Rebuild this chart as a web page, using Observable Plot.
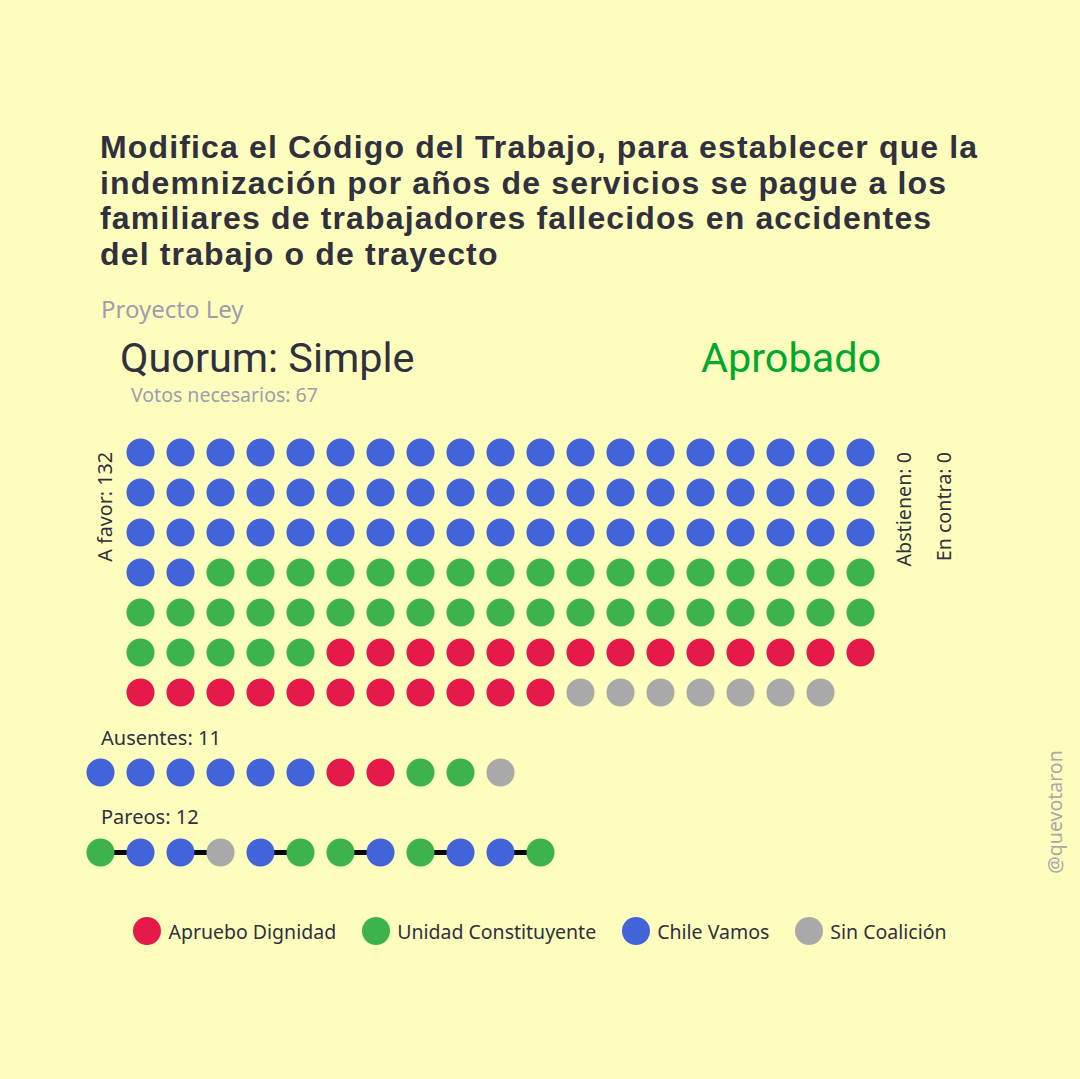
<!DOCTYPE html>
<html>
<head>
<meta charset="utf-8">
<script src="https://cdn.jsdelivr.net/npm/d3@7"></script>
<script src="https://cdn.jsdelivr.net/npm/@observablehq/plot@0.6"></script>
<style>
  html, body { margin: 0; padding: 0; }
  body { width: 1080px; height: 1079px; background: #fdfdbd; position: relative; overflow: hidden;
         font-family: "Noto Sans", Roboto, sans-serif; color: #30303f; }
  .abs { position: absolute; white-space: nowrap; line-height: 1; }
  .rot { transform: translate(-50%, -50%) rotate(-90deg); }
  .vert { writing-mode: vertical-rl; transform: rotate(180deg); }
  .tline { position: absolute; left: 100px; font-size: 32px; font-weight: 700; line-height: 1; white-space: nowrap;
           letter-spacing: 1.15px; font-family: "Liberation Sans", Arial, sans-serif; }
  #sub { left: 101px; top: 296.5px; font-size: 24px; color: #9e9db0; }
  #quorum { left: 120px; top: 337.5px; font-size: 41.4px; font-family: Roboto, sans-serif; }
  #estado { left: 701px; top: 337.5px; font-size: 41.4px; color: #00a82c; font-family: Roboto, sans-serif; }
  #votos { left: 131px; top: 385px; font-size: 19.5px; color: #9e9db0; }
  .side { font-size: 19.7px; top: 452px; }
  .grp { font-size: 20px; }
  #chart { position: absolute; left: 0; top: 420px; }
  #legend { position: absolute; left: 0; width: 1080px; top: 917px; display: flex; justify-content: center; gap: 26px; font-size: 19.5px; }
  #legend .item { display: flex; align-items: center; gap: 7px; }
  #legend .sw { width: 28px; height: 28px; border-radius: 50%; display: inline-block; }
  #wm { font-size: 19.5px; color: #a8a8ad; }
</style>
</head>
<body>
<div id="title"></div>
<div id="sub" class="abs"></div>
<div id="quorum" class="abs"></div>
<div id="estado" class="abs"></div>
<div id="votos" class="abs"></div>
<div id="favorLbl" class="abs vert side" style="left:95.15px;"></div>
<div id="abstLbl" class="abs vert side" style="left:894.15px;"></div>
<div id="contraLbl" class="abs vert side" style="left:934.15px;"></div>
<div id="ausLbl" class="abs grp" style="left:101px; top:728.2px;"></div>
<div id="parLbl" class="abs grp" style="left:101px; top:807.2px;"></div>
<div id="chart"></div>
<div id="legend"></div>
<div id="wm" class="abs rot" style="left:1055px; top:812px;"></div>
<script>
// ---- Data ----
const titleLines = [
  "Modifica el Código del Trabajo, para establecer que la",
  "indemnización por años de servicios se pague a los",
  "familiares de trabajadores fallecidos en accidentes",
  "del trabajo o de trayecto"
];
const subtitle = "Proyecto Ley";
const quorum = "Simple";
const resultado = "Aprobado";
const votosNecesarios = 67;
const abstienen = 0;
const enContra = 0;

const parties = ["Apruebo Dignidad", "Unidad Constituyente", "Chile Vamos", "Sin Coalición"];
const partyColors = ["#e6194b", "#3cb44b", "#4363d8", "#a9a9a9"];

// A favor, in drawing order
const favorParties = ["Chile Vamos", "Unidad Constituyente", "Apruebo Dignidad", "Sin Coalición"];
const favorCounts  = [59, 41, 25, 7];

const ausentes = ["Chile Vamos", "Chile Vamos", "Chile Vamos", "Chile Vamos", "Chile Vamos", "Chile Vamos",
  "Apruebo Dignidad", "Apruebo Dignidad", "Unidad Constituyente", "Unidad Constituyente", "Sin Coalición"];

const pareos = [
  ["Unidad Constituyente", "Chile Vamos"],
  ["Chile Vamos", "Sin Coalición"],
  ["Chile Vamos", "Unidad Constituyente"],
  ["Unidad Constituyente", "Chile Vamos"],
  ["Unidad Constituyente", "Chile Vamos"],
  ["Chile Vamos", "Unidad Constituyente"]
];
const watermark = "@quevotaron";

// ---- Layout of dots ----
const perRow = 19;
const favorDots = [];
favorParties.forEach((p, i) => { for (let k = 0; k < favorCounts[i]; k++) favorDots.push({party: p}); });
favorDots.forEach((d, k) => { d.col = k % perRow; d.row = Math.floor(k / perRow); });
const totalFavor = favorDots.length;

const ausRow = 8, parRow = 10;
const ausDots = ausentes.map((p, i) => ({party: p, col: i - 1, row: ausRow}));
const parDots = pareos.flat().map((p, i) => ({party: p, col: i - 1, row: parRow}));
const parLinks = pareos.map((pr, j) => ({c1: 2 * j - 1, c2: 2 * j, row: parRow}));

// ---- Texts ----
const titleEl = document.getElementById("title");
titleLines.forEach((t, i) => {
  const d = document.createElement("div");
  d.className = "tline";
  d.style.top = (130.9 + i * 35.75) + "px";
  d.textContent = t;
  titleEl.appendChild(d);
});
document.getElementById("sub").textContent = subtitle;
document.getElementById("quorum").textContent = "Quorum: " + quorum;
document.getElementById("estado").textContent = resultado;
document.getElementById("votos").textContent = "Votos necesarios: " + votosNecesarios;
document.getElementById("favorLbl").textContent = "A favor: " + totalFavor;
document.getElementById("abstLbl").textContent = "Abstienen: " + abstienen;
document.getElementById("contraLbl").textContent = "En contra: " + enContra;
document.getElementById("ausLbl").textContent = "Ausentes: " + ausentes.length;
document.getElementById("parLbl").textContent = "Pareos: " + pareos.flat().length;
document.getElementById("wm").textContent = watermark;

// ---- Chart ----
const chart = Plot.plot({
  width: 1080, height: 460, margin: 0,
  x: {domain: [-3.5, 23.5], axis: null},
  y: {domain: [-0.8, 10.7], reverse: true, axis: null},
  color: {domain: parties, range: partyColors},
  style: {background: "transparent", overflow: "visible"},
  marks: [
    Plot.link(parLinks, {x1: "c1", x2: "c2", y1: "row", y2: "row", stroke: "#000", strokeWidth: 5}),
    Plot.dot(favorDots, {x: "col", y: "row", fill: "party", r: 14}),
    Plot.dot(ausDots, {x: "col", y: "row", fill: "party", r: 14}),
    Plot.dot(parDots, {x: "col", y: "row", fill: "party", r: 14})
  ]
});
document.getElementById("chart").appendChild(chart);

// ---- Legend ----
const legend = document.getElementById("legend");
parties.forEach((p, i) => {
  const it = document.createElement("div");
  it.className = "item";
  it.innerHTML = `<span class="sw" style="background:${partyColors[i]}"></span><span>${p}</span>`;
  legend.appendChild(it);
});
</script>
</body>
</html>
